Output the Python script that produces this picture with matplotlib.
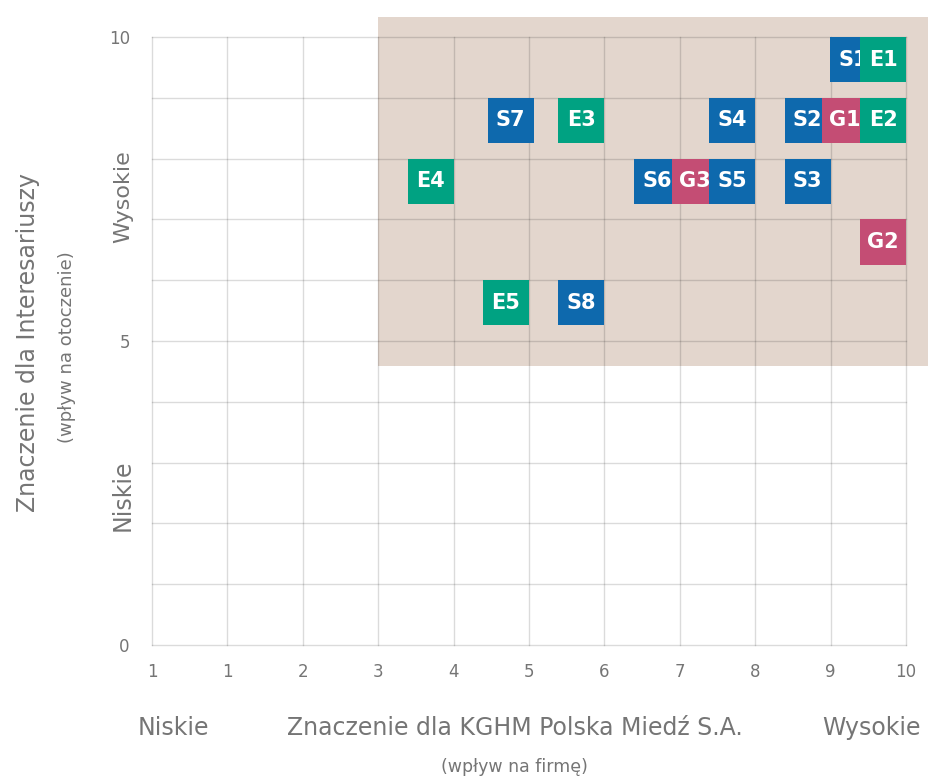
import matplotlib.pyplot as plt
from matplotlib.patches import Rectangle

# etykiety osi X (pozycje 0..10)
x_ticks = [0, 1, 2, 3, 4, 5, 6, 7, 8, 9, 10]
x_tick_labels = ['1', '1', '2', '3', '4', '5', '6', '7', '8', '9', '10']
y_ticks = [0, 1, 2, 3, 4, 5, 6, 7, 8, 9, 10]
y_tick_labels = ['0', '', '', '', '', '5', '', '', '', '', '10']

# tematy: kolejność = kolejność rysowania (późniejsze zasłaniają wcześniejsze)
codes = ['S1', 'E1', 'S2', 'G1', 'E2', 'S7', 'E3', 'S4', 'E4',
         'S6', 'G3', 'S5', 'S3', 'G2', 'E5', 'S8']
x_vals = [9.6, 10, 9.0, 9.5, 10, 5.06, 6, 8, 4,
          7.0, 7.5, 8, 9, 10, 5, 6]
y_vals = [10, 10, 9, 9, 9, 9, 9, 9, 8,
          8, 8, 8, 8, 7, 6, 6]

COLORS = {'S': '#0e69ad', 'E': '#00a282', 'G': '#c44d74'}
TXT = '#757575'
BOX_W, BOX_H = 0.61, 0.745

fig = plt.figure(figsize=(9.29, 7.76), dpi=100)
ax = fig.add_axes([152/929, 131/776, 754/929, 608/776])
ax.set_xlim(0, 10)
ax.set_ylim(0, 10)

# obszar istotności
ax.add_patch(Rectangle((3, 4.59), 7.3, 5.74, facecolor='#e3d6cd',
                       edgecolor='none', zorder=0.2, clip_on=False))

ax.set_xticks(x_ticks)
ax.set_xticklabels(x_tick_labels)
ax.set_yticks(y_ticks)
ax.set_yticklabels(y_tick_labels)
ax.tick_params(length=0, labelsize=12, labelcolor=TXT)
ax.tick_params(axis='x', pad=13)
ax.tick_params(axis='y', pad=16)
ax.set_axisbelow(True)
ax.grid(True, color='black', alpha=0.14, linewidth=1.0)
for ln in ax.get_xgridlines() + ax.get_ygridlines():
    ln.set_clip_on(False)
for s in ax.spines.values():
    s.set_visible(False)

for i, (c, x, y) in enumerate(zip(codes, x_vals, y_vals)):
    z = 3 + i * 0.01
    ax.add_patch(Rectangle((x - BOX_W, y - BOX_H), BOX_W, BOX_H,
                           facecolor=COLORS[c[0]], edgecolor='none',
                           zorder=z, clip_on=False))
    ax.text(x - BOX_W / 2, y - BOX_H / 2, c, color='white', fontsize=15,
            fontweight='bold', ha='center', va='center', zorder=z + 0.001)

# opisy osi
ax.text(0.028, -0.1365, 'Niskie', transform=ax.transAxes, ha='center',
        va='center', fontsize=17, color=TXT)
ax.text(0.481, -0.1365, 'Znaczenie dla KGHM Polska Miedź S.A.',
        transform=ax.transAxes, ha='center', va='center', fontsize=17, color=TXT)
ax.text(0.954, -0.1365, 'Wysokie', transform=ax.transAxes, ha='center',
        va='center', fontsize=17, color=TXT)
ax.text(0.481, -0.2007, '(wpływ na firmę)', transform=ax.transAxes,
        ha='center', va='center', fontsize=12.5, color=TXT)

ax.text(-0.1645, 0.498, 'Znaczenie dla Interesariuszy', transform=ax.transAxes,
        ha='center', va='center', rotation=90, fontsize=17, color=TXT)
ax.text(-0.1127, 0.49, '(wpływ na otoczenie)', transform=ax.transAxes,
        ha='center', va='center', rotation=90, fontsize=13, color=TXT)
ax.text(-0.0385, 0.738, 'Wysokie', transform=ax.transAxes, ha='center',
        va='center', rotation=90, fontsize=16, color=TXT)
ax.text(-0.0385, 0.247, 'Niskie', transform=ax.transAxes, ha='center',
        va='center', rotation=90, fontsize=17, color=TXT)

fig.savefig('out.png', dpi=100, facecolor='white')
